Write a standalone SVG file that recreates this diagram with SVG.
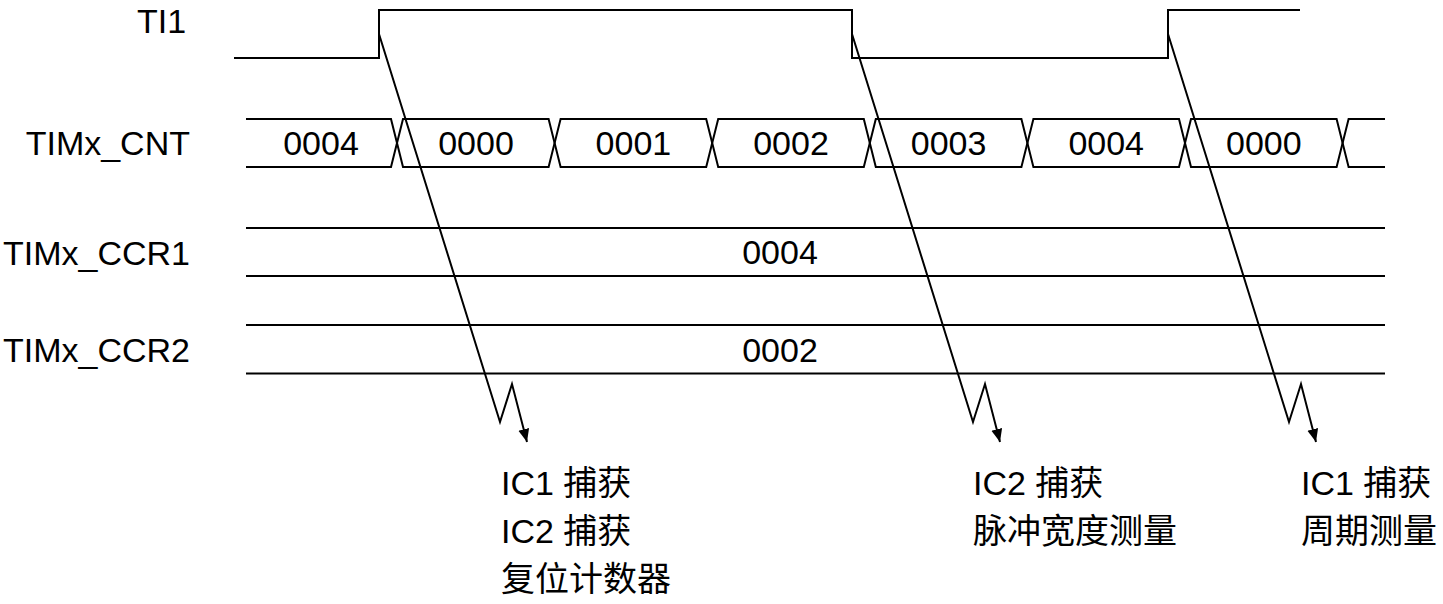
<svg xmlns="http://www.w3.org/2000/svg" width="1443" height="604" viewBox="0 0 1443 604">
<style>
.ln{fill:none;stroke:#000;stroke-width:2;stroke-linejoin:miter}
.t{font-family:"Liberation Sans","Noto Sans CJK SC",Arial,sans-serif;font-size:34px;fill:#000}
.c{text-anchor:middle}
.r{text-anchor:end}
</style>
<defs>
<marker id="ah" markerUnits="userSpaceOnUse" markerWidth="14" markerHeight="12" refX="13" refY="5.5" orient="auto">
<path d="M0,0 L13,5.5 L0,11 Z" fill="#000"/>
</marker>
</defs>
<rect width="1443" height="604" fill="#fff"/>
<g id="labels">
<text class="t" x="137" y="33">TI1</text>
<text class="t r" x="190" y="155">TIMx_CNT</text>
<text class="t r" x="190" y="265">TIMx_CCR1</text>
<text class="t r" x="190" y="362">TIMx_CCR2</text>
</g>
<g id="ti1">
<path class="ln" d="M234,58 L379,58 L379,10 L852,10 L852,58 L1168,58 L1168,10 L1300,10"/>
</g>
<g id="cnt">
<path class="ln" d="M246,119 L391,119 L397,143 L391,167 L246,167"/>
<path class="ln" d="M403,119 L548.6,119 L554.6,143 L548.6,167 L403,167 L397,143 Z"/>
<path class="ln" d="M560.6,119 L706.2,119 L712.2,143 L706.2,167 L560.6,167 L554.6,143 Z"/>
<path class="ln" d="M718.2,119 L863.8,119 L869.8,143 L863.8,167 L718.2,167 L712.2,143 Z"/>
<path class="ln" d="M875.8,119 L1021.4,119 L1027.4,143 L1021.4,167 L875.8,167 L869.8,143 Z"/>
<path class="ln" d="M1033.4,119 L1179,119 L1185,143 L1179,167 L1033.4,167 L1027.4,143 Z"/>
<path class="ln" d="M1191,119 L1336.6,119 L1342.6,143 L1336.6,167 L1191,167 L1185,143 Z"/>
<path class="ln" d="M1385,119 L1348.6,119 L1342.6,143 L1348.6,167 L1385,167"/>
<text class="t c" x="321" y="155">0004</text>
<text class="t c" x="476" y="155">0000</text>
<text class="t c" x="633.4" y="155">0001</text>
<text class="t c" x="791" y="155">0002</text>
<text class="t c" x="948.6" y="155">0003</text>
<text class="t c" x="1106.2" y="155">0004</text>
<text class="t c" x="1263.8" y="155">0000</text>
</g>
<g id="ccr1">
<path class="ln" d="M246,228 L1385,228 M246,276 L1385,276"/>
<text class="t c" x="780" y="264">0004</text>
</g>
<g id="ccr2">
<path class="ln" d="M246,325 L1385,325 M246,373.5 L1385,373.5"/>
<text class="t c" x="780" y="362">0002</text>
</g>
<g id="connectors">
<path class="ln" marker-end="url(#ah)" d="M379,34 L500,422 L512,384 L527,442"/>
<path class="ln" marker-end="url(#ah)" d="M852,34 L973,422 L985,384 L1000,442"/>
<path class="ln" marker-end="url(#ah)" d="M1168,34 L1289,422 L1301,384 L1316,442"/>
</g>
<g id="note1">
<text class="t" x="501" y="495">IC1 捕获</text>
<text class="t" x="501" y="543">IC2 捕获</text>
<text class="t" x="501" y="591">复位计数器</text>
</g>
<g id="note2">
<text class="t" x="973" y="495">IC2 捕获</text>
<text class="t" x="973" y="543">脉冲宽度测量</text>
</g>
<g id="note3">
<text class="t" x="1301" y="495">IC1 捕获</text>
<text class="t" x="1301" y="543">周期测量</text>
</g>
</svg>
